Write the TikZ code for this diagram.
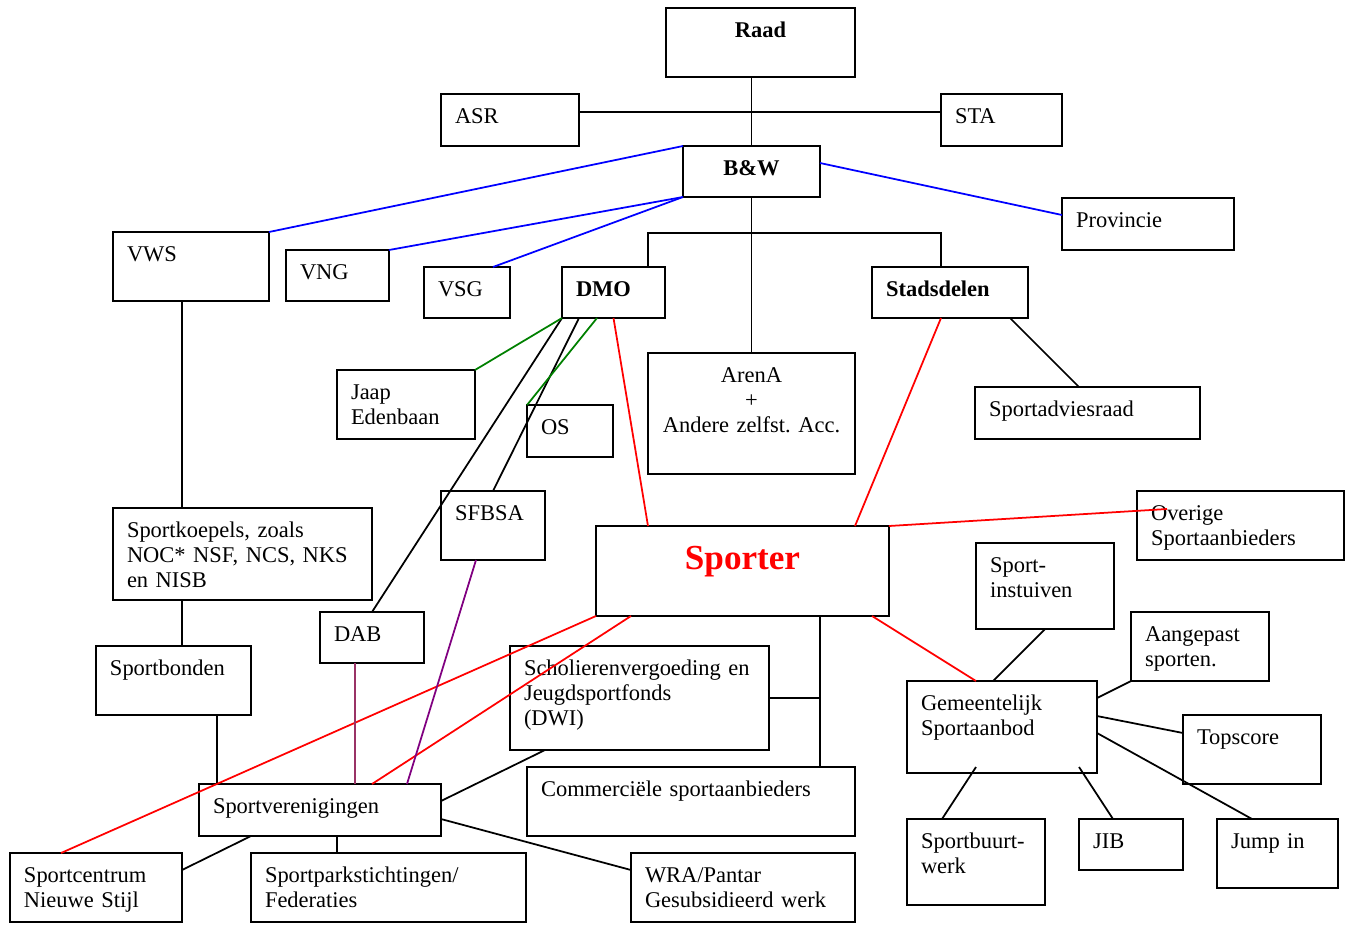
\documentclass[tikz,border=0pt]{standalone}
\usepackage{fontspec}
\setmainfont{Liberation Serif}
\definecolor{groen}{RGB}{0,128,0}
\definecolor{paars}{RGB}{128,0,128}
\definecolor{paarsrood}{RGB}{153,51,102}

\begin{document}
\begin{tikzpicture}[x=0.02cm, y=-0.02cm, line width=1pt,
  blok/.style 2 args={draw, line width=1.1pt, anchor=north west, align=left, outer sep=0pt,
    font=\fontsize{12.8}{14.5}\selectfont, inner xsep=0.28cm, inner ysep=0.08cm,
    text width={(#1-28)*0.02cm}, text height=0.5cm, text depth={(#2-33)*0.02cm}},
  midden/.style={align=center},
  vet/.style={font=\fontsize{12.8}{14.5}\selectfont\bfseries},
  hoofd/.style={font=\fontsize{20}{24}\selectfont\bfseries, text=red, text height=0.78cm, text depth=0.86cm},
  blauw/.style={blue}, rood/.style={red}]
  \useasboundingbox (0,0) rectangle (1351,924);

  \node[blok={189}{69}, midden, vet] (raad) at (666,8) {Raad};
  \node[blok={138}{52}] (asr) at (441,94) {ASR};
  \node[blok={121}{52}] (sta) at (941,94) {STA};
  \node[blok={137}{51}, midden, vet] (bw) at (683,146) {B\&W};
  \node[blok={172}{52}] (prov) at (1062,198) {Provincie};
  \node[blok={156}{69}] (vws) at (113,232) {VWS};
  \node[blok={103}{51}] (vng) at (286,250) {VNG};
  \node[blok={86}{51}] (vsg) at (424,267) {VSG};
  \node[blok={103}{51}, vet] (dmo) at (562,267) {DMO};
  \node[blok={156}{51}, vet] (stad) at (872,267) {Stadsdelen};
  \node[blok={207}{121}, midden] (arena) at (648,353) {ArenA\\+\\Andere zelfst.\ Acc.};
  \node[blok={138}{69}] (jaap) at (337,370) {Jaap\\Edenbaan};
  \node[blok={86}{52}] (os) at (527,405) {OS};
  \node[blok={225}{52}] (sar) at (975,387) {Sportadviesraad};
  \node[blok={104}{69}] (sfbsa) at (441,491) {SFBSA};
  \node[blok={293}{86}, midden, hoofd] (sporter) at (596,526) {Sporter};
  \node[blok={207}{69}] (overig) at (1137,491) {Overige\\Sportaanbieders};
  \node[blok={259}{92}] (koepels) at (113,508) {Sportkoepels, zoals\\NOC* NSF, NCS, NKS\\en NISB};
  \node[blok={138}{86}] (instuif) at (976,543) {Sport-\\instuiven};
  \node[blok={138}{69}] (aangepast) at (1131,612) {Aangepast\\sporten.};
  \node[blok={104}{51}] (dab) at (320,612) {DAB};
  \node[blok={155}{69}] (bonden) at (96,646) {Sportbonden};
  \node[blok={259}{104}] (dwi) at (510,646) {Scholierenvergoeding en\\Jeugdsportfonds\\(DWI)};
  \node[blok={190}{92}] (gem) at (907,681) {Gemeentelijk\\Sportaanbod};
  \node[blok={138}{69}] (topscore) at (1183,715) {Topscore};
  \node[blok={328}{69}] (comm) at (527,767) {Commerciële sportaanbieders};
  \node[blok={242}{52}] (vereni) at (199,784) {Sportverenigingen};
  \node[blok={172}{69}] (centrum) at (10,853) {Sportcentrum\\Nieuwe Stijl};
  \node[blok={275}{69}] (park) at (251,853) {Sportparkstichtingen/\\Federaties};
  \node[blok={224}{69}] (wra) at (631,853) {WRA/Pantar\\Gesubsidieerd werk};
  \node[blok={138}{86}] (buurt) at (907,819) {Sportbuurt-\\werk};
  \node[blok={104}{51}] (jib) at (1079,819) {JIB};
  \node[blok={121}{69}] (jump) at (1217,819) {Jump in};

  \coordinate (splits) at (751,233);
  \coordinate (tak) at (820,698);

  \draw (bw.north) -- (bw.north |- raad.south);
  \draw ([shift={(0,-8)}]asr.east) -- ([shift={(0,-8)}]sta.west);
  \draw (bw.south) -- (arena.north);
  \draw ([shift={(-17,0)}]dmo.north east) |- (splits) -| ([shift={(69,0)}]stad.north west);
  \draw ([shift={(-18,0)}]stad.south east) -- ([shift={(104,0)}]sar.north west);
  \draw ([shift={(69,0)}]vws.south west) -- ([shift={(69,0)}]koepels.north west);
  \draw ([shift={(69,0)}]koepels.south west) -- ([shift={(86,0)}]bonden.north west);
  \draw ([shift={(-34,0)}]bonden.south east) -- ([shift={(18,0)}]vereni.north west);
  \draw (dmo.south west) -- ([shift={(-52,0)}]dab.north east);
  \draw ([shift={(17,0)}]dmo.south west) -- (sfbsa.north);
  \draw ([shift={(-69,0)}]sporter.south east) -- ([shift={(-35,0)}]comm.north east);
  \draw (dwi.east) -- (tak);
  \draw ([shift={(35,0)}]dwi.south west) -- ([shift={(0,17)}]vereni.north east);
  \draw ([shift={(0,35)}]vereni.north east) -- ([shift={(0,17)}]wra.north west);
  \draw ([shift={(52,0)}]vereni.south west) -- ([shift={(0,17)}]centrum.north east);
  \draw ([shift={(138,0)}]vereni.south west) -- ([shift={(86,0)}]park.north west);
  \draw (instuif.south) -- ([shift={(86,0)}]gem.north west);
  \draw ([shift={(0,17)}]gem.north east) -- (aangepast.south west);
  \draw ([shift={(0,35)}]gem.north east) -- ([shift={(0,18)}]topscore.north west);
  \draw ([shift={(0,52)}]gem.north east) -- ([shift={(35,0)}]jump.north west);
  \draw ([shift={(69,-6)}]gem.south west) -- ([shift={(35,0)}]buurt.north west);
  \draw ([shift={(-18,-6)}]gem.south east) -- ([shift={(34,0)}]jib.north west);

  \draw[blauw] (bw.north west) -- (vws.north east);
  \draw[blauw] (bw.south west) -- (vng.north east);
  \draw[blauw] (bw.south west) -- ([shift={(-17,0)}]vsg.north east);
  \draw[blauw] ([shift={(0,17)}]bw.north east) -- ([shift={(0,17)}]prov.north west);

  \draw[groen] (dmo.south west) -- (jaap.north east);
  \draw[groen] ([shift={(35,0)}]dmo.south west) -- (os.north west);

  \draw[rood] (dmo.south) -- ([shift={(52,0)}]sporter.north west);
  \draw[rood] ([shift={(69,0)}]stad.south west) -- ([shift={(-34,0)}]sporter.north east);
  \draw[rood] (sporter.north east) -- ([shift={(30,18)}]overig.north west);
  \draw[rood] (sporter.south west) -- ([shift={(51,0)}]centrum.north west);
  \draw[rood] ([shift={(35,0)}]sporter.south west) -- ([shift={(173,0)}]vereni.north west);
  \draw[rood] ([shift={(-17,0)}]sporter.south east) -- ([shift={(69,0)}]gem.north west);

  \draw[paarsrood] ([shift={(35,0)}]dab.south west) -- ([shift={(156,0)}]vereni.north west);
  \draw[paars] ([shift={(35,0)}]sfbsa.south west) -- ([shift={(208,0)}]vereni.north west);
\end{tikzpicture}
\end{document}
